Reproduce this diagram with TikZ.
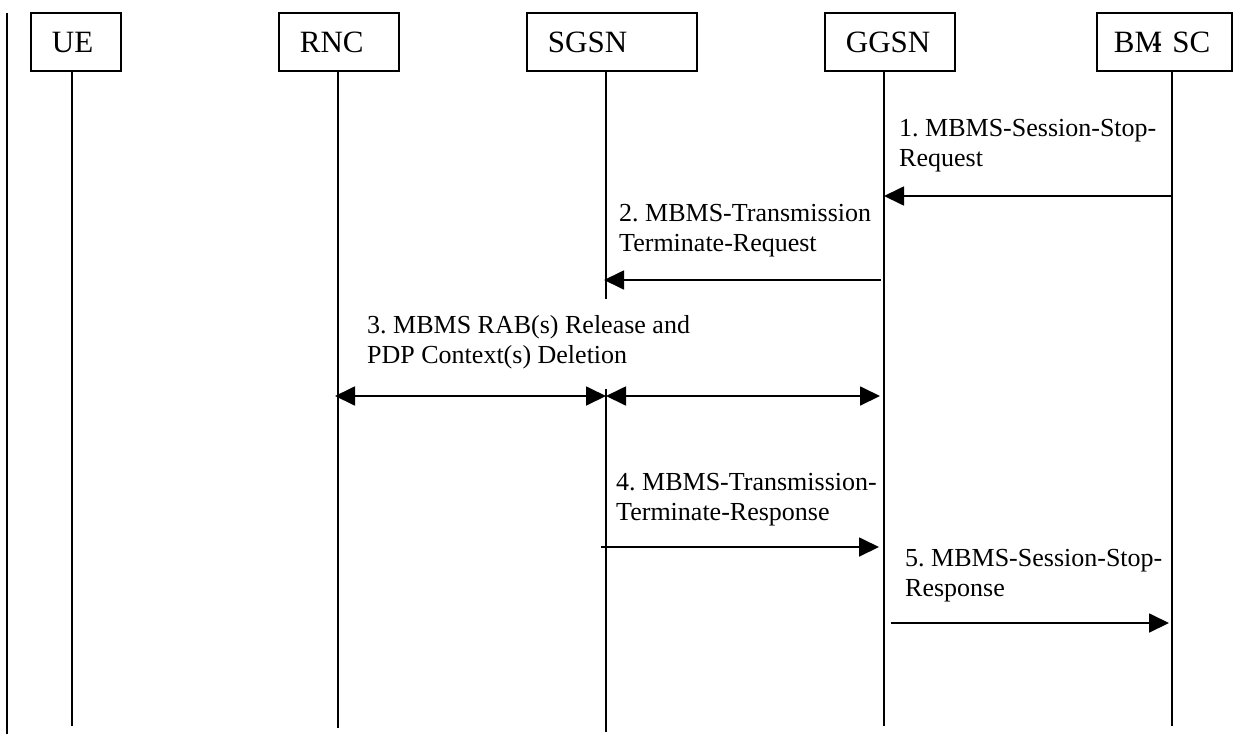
\documentclass[tikz,border=0pt]{standalone}
\usepackage{fontspec}
\setmainfont{Liberation Serif}
\usetikzlibrary{arrows.meta,positioning}
\frenchspacing
\tikzset{ent/.style={draw,line width=1.8pt,anchor=north west,minimum height=58pt,inner xsep=21pt,inner ysep=0pt,align=left,text height=24pt,text depth=2pt,font=\fontsize{31}{36}\selectfont},
lab/.style={anchor=base west,align=left,inner sep=0pt,font=\fontsize{26}{30}\selectfont},
life/.style={line width=1.8pt},
msg/.style={line width=1.8pt,-{Triangle[length=20pt,width=19pt]}},bmsg/.style={line width=1.8pt,{Triangle[length=20pt,width=19pt]}-{Triangle[length=20pt,width=19pt]}}}
\begin{document}
\begin{tikzpicture}[x=1pt,y=-1pt]
\useasboundingbox(0,0)rectangle(1233,734);
\node[ent,text width=48pt](ue)at(30,12){UE};\node[ent,text width=78pt](rnc)at(278,12){RNC};\node[ent,text width=128pt](sgsn)at(526,12){SGSN};
\node[ent,text width=88pt](ggsn)at(824,12){GGSN};\node[ent,text width=101pt,inner xsep=17pt](bmsc)at(1096,12){BM\llap{-}~SC};
\coordinate(fT)at(7,13);\coordinate(fB)at(7,734);\draw[life](fT)--(fB);
\coordinate(ueB)at(72,726);\coordinate(rncB)at(338,728);\coordinate(sgB)at(606,732);\coordinate(ggB)at(884,726);\coordinate(bmB)at(1172,726);
\coordinate(sgU)at(606,299);\coordinate(sgL)at(606,389);
\draw[life](ue.south-|ueB)--(ueB);\draw[life](rnc.south-|rncB)--(rncB);\draw[life](sgsn.south-|sgB)--(sgU);\draw[life](sgL)--(sgB);
\draw[life](ggsn.south-|ggB)--(ggB);\draw[life](bmsc.south-|bmB)--(bmB);
\coordinate(y1)at(0,196);\coordinate(y2)at(0,280);\coordinate(y3)at(0,396);\coordinate(y4)at(0,547);\coordinate(y5)at(0,623);
\draw[msg](bmB|-y1)--(ggB|-y1);\draw[msg,shorten <=3pt,shorten >=-2pt](ggB|-y2)--(sgB|-y2);
\draw[bmsg,shorten <=-3pt](rncB|-y3)--(sgB|-y3);\draw[bmsg,shorten >=4pt](sgB|-y3)--(ggB|-y3);
\draw[msg,shorten <=-5pt,shorten >=5pt](sgB|-y4)--(ggB|-y4);\draw[msg,shorten <=7pt,shorten >=3pt](ggB|-y5)--(bmB|-y5);
\node[lab](l1)at(899,166){1. MBMS-Session-Stop-\\Request};\node[lab](l2)at(619,251){2. MBMS-Transmission\\Terminate-Request};
\node[lab](l3)at(367,363){3. MBMS RAB(s) Release and\\PDP Context(s) Deletion};\node[lab](l4)at(616,520){4. MBMS-Transmission-\\Terminate-Response};
\node[lab](l5)at(905,596){5. MBMS-Session-Stop-\\Response};
\end{tikzpicture}
\end{document}
